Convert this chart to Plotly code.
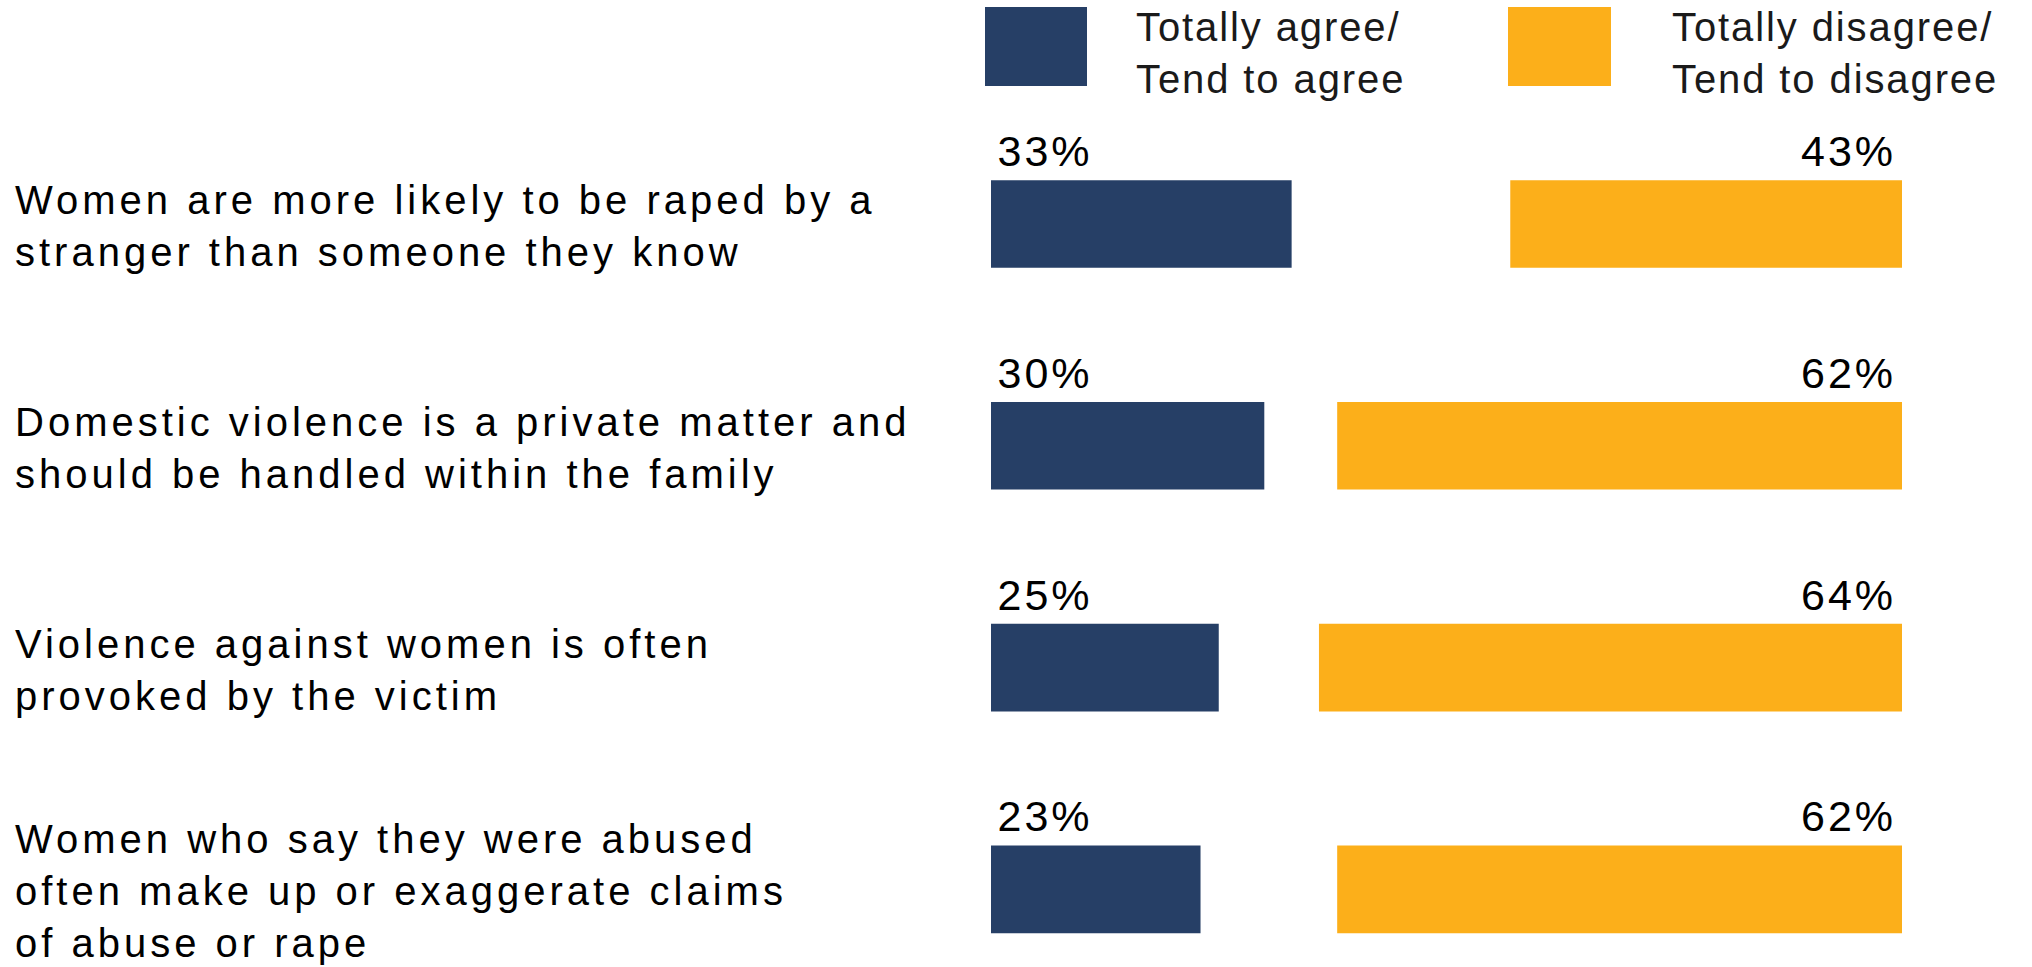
import json
import plotly.graph_objects as go

# ---- data ----
categories = [
    "Women are more likely to be raped by a<br>stranger than someone they know",
    "Domestic violence is a private matter and<br>should be handled within the family",
    "Violence against women is often<br>provoked by the victim",
    "Women who say they were abused<br>often make up or exaggerate claims<br>of abuse or rape",
]
agree = [33, 30, 25, 23]
disagree = [43, 62, 64, 62]
series_names = ["Totally agree/<br>Tend to agree", "Totally disagree/<br>Tend to disagree"]

# ---- style ----
NAVY = "#263F66"
ORANGE = "#FCAF1A"
FONT = "Liberation Sans, Arial, sans-serif"
W, H = 2032, 967
L, R = 991, 130
PW = W - L - R


def px_x(px):
    return (px - L) / PW


def px_y(py):
    return 1 - py / H


pos = list(range(len(categories)))
bar_w = 0.395

fig = go.Figure()
fig.add_trace(go.Bar(
    y=pos, x=agree, base=[0] * len(agree), orientation="h", width=bar_w,
    marker=dict(color=NAVY, line=dict(width=0)), name=series_names[0],
    hoverinfo="skip", showlegend=False,
))
fig.add_trace(go.Bar(
    y=pos, x=disagree, base=[100 - v for v in disagree], orientation="h", width=bar_w,
    marker=dict(color=ORANGE, line=dict(width=0)), name=series_names[1],
    hoverinfo="skip", showlegend=False,
))

annotations = []
spacing = []
for i, cat in enumerate(categories):
    annotations.append(dict(
        xref="paper", yref="y", x=px_x(13), y=i, xanchor="left", yanchor="middle",
        align="left", text=cat, showarrow=False, yshift=-2,
        font=dict(family=FONT, size=40, color="#000000"),
    ))
    spacing.append(4.0)
    annotations.append(dict(
        xref="x", yref="y", x=0, y=i, xanchor="left", yanchor="middle",
        text=f"{agree[i]}%", showarrow=False, xshift=9, yshift=73,
        font=dict(family=FONT, size=43, color="#000000"),
    ))
    spacing.append(3)
    annotations.append(dict(
        xref="x", yref="y", x=100, y=i, xanchor="right", yanchor="middle", align="right",
        text=f"{disagree[i]}%", showarrow=False, xshift=-4, yshift=73,
        font=dict(family=FONT, size=43, color="#000000"),
    ))
    spacing.append(3)

# legend (manual)
legend_items = [(NAVY, 985, 1087, 1134), (ORANGE, 1508, 1611, 1670)]
shapes = []
for (col, x0, x1, tx), name in zip(legend_items, series_names):
    shapes.append(dict(type="rect", xref="paper", yref="paper",
                       x0=px_x(x0), x1=px_x(x1), y0=px_y(86), y1=px_y(7),
                       fillcolor=col, line=dict(width=0)))
    annotations.append(dict(
        xref="paper", yref="paper", x=px_x(tx), y=px_y(53), xanchor="left", yanchor="middle",
        align="left", text=name, showarrow=False,
        font=dict(family=FONT, size=40, color="#1a1a1a"),
    ))
    spacing.append(1.9)

fig.update_layout(
    width=W, height=H,
    margin=dict(l=L, r=R, t=0, b=0, pad=0),
    paper_bgcolor="white", plot_bgcolor="white",
    barmode="overlay",
    showlegend=False,
    xaxis=dict(range=[0, 100], visible=False, fixedrange=True),
    yaxis=dict(range=[3.35, -1.01], visible=False, fixedrange=True),
    annotations=annotations,
    shapes=shapes,
)

post = """
var gd = document.getElementById('{plot_id}');
var sp = %s;
gd.querySelectorAll('g.annotation').forEach(function(g){
  var i = +g.getAttribute('data-index');
  var t = g.querySelector('text.annotation-text');
  if (t && sp[i]) { t.style.letterSpacing = sp[i] + 'px'; }
});
""" % json.dumps(spacing)

fig.write_html("out.html", post_script=post, config={"displayModeBar": False})
